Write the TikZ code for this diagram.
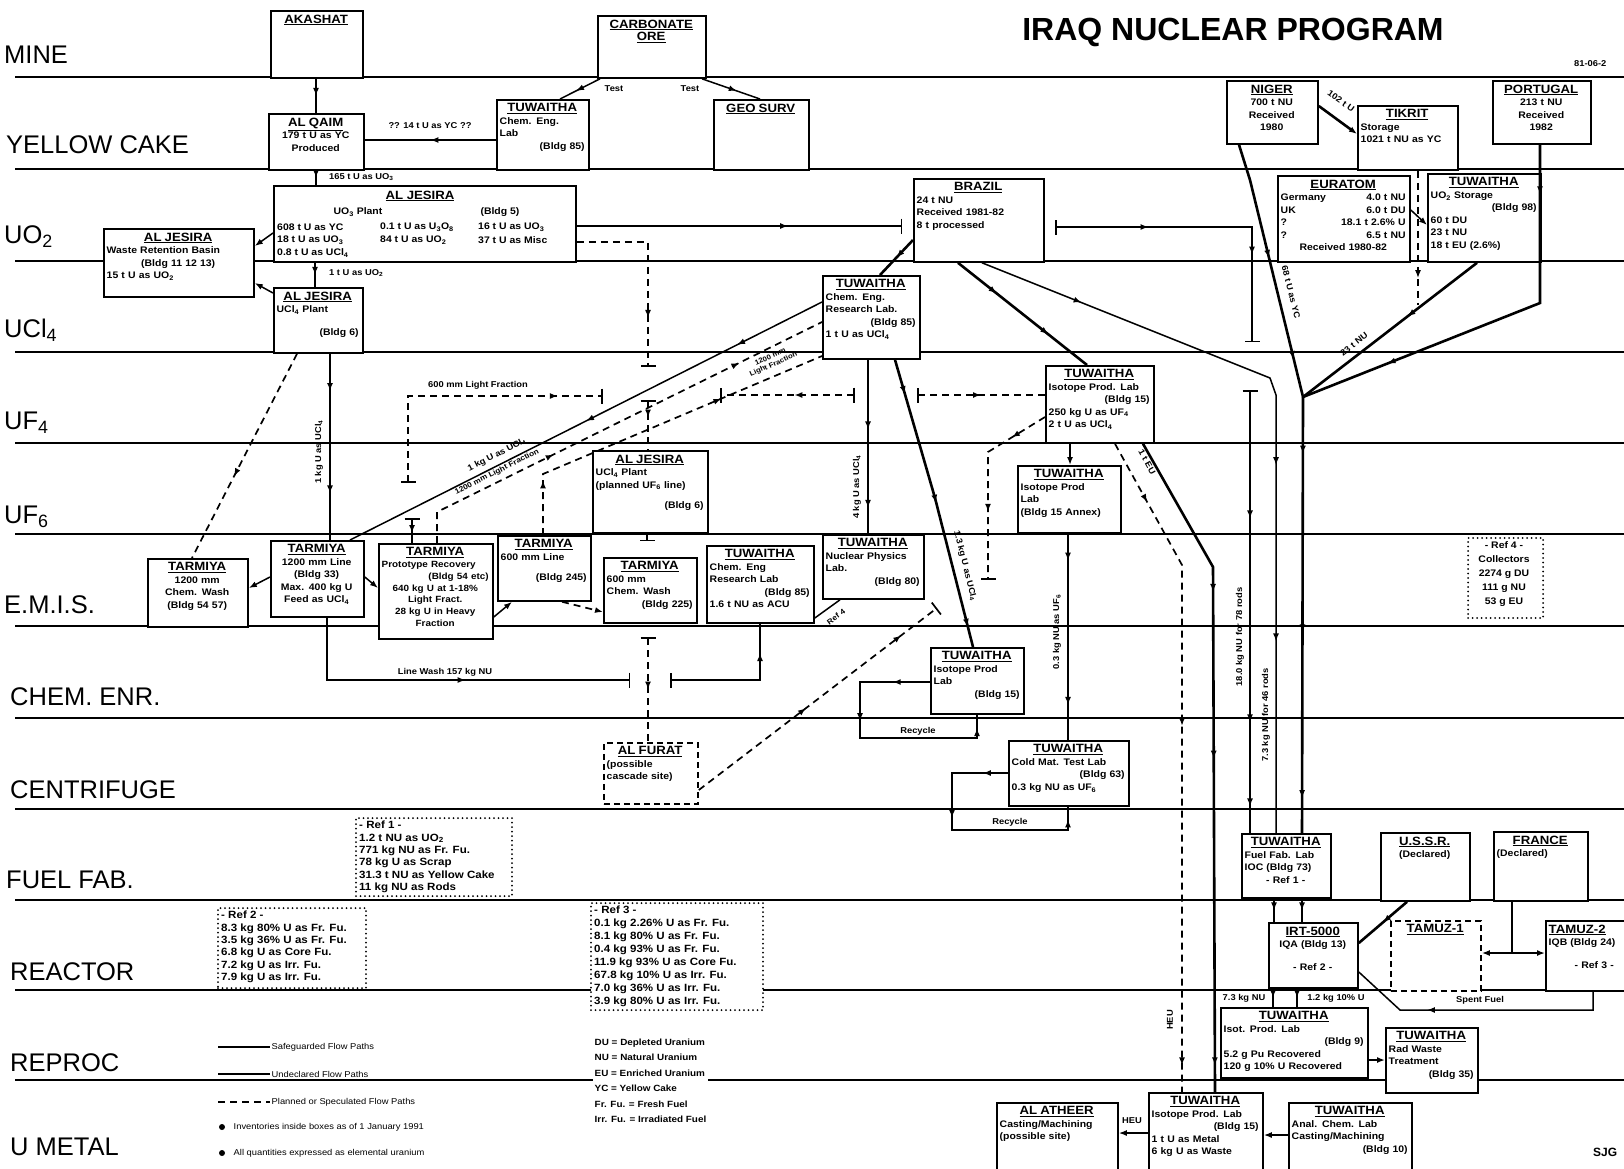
\documentclass[tikz,border=0pt]{standalone}
\usepackage{fontspec}
\setmainfont{Liberation Sans}
\newfontfamily\bxf[FakeStretch=1.1]{Liberation Sans}
\usetikzlibrary{arrows.meta,decorations.markings,calc}
\newcommand\arrmark{\arrow{Latex[length=8pt,width=6pt]}}
\newcommand\ttl[1]{\makebox[\linewidth]{\fontsize{12}{14}\selectfont\bfseries\underline{#1}}}
\newcommand\ttll[1]{{\fontsize{12}{14}\selectfont\bfseries\underline{#1}}}
\newcommand\rt[1]{\makebox[\linewidth][r]{#1}}
\newcommand\ct[1]{\makebox[\linewidth]{#1}}
\newcommand\bxat[7]{%
  \pgfmathsetmacro\bxw{#4-#2}\pgfmathsetmacro\bxh{#5-#3}\pgfmathsetmacro\bxt{#4-#2-7}%
  \node[#6, minimum width=\bxw pt, minimum height=\bxh pt, anchor=north west] (#1) at (#2,#3) {};%
  \node[btxt, text width=\bxt pt] (#1-t) at ($(#1.north west)+(3.5,4.5)$) {#7};}
\tikzset{
  bx/.style={draw, line width=1.8pt, fill=white, inner sep=0pt},
  dbx/.style={draw, line width=1.8pt, fill=white, dash pattern=on 6pt off 4pt, inner sep=0pt},
  dotbx/.style={draw, line width=2pt, fill=white, line cap=round, dash pattern=on 0pt off 4.5pt, inner sep=0pt},
  btxt/.style={anchor=north west, inner sep=0pt, align=left, font=\bxf\fontsize{9.5}{12.5}\selectfont\bfseries},
  rtxt/.style={anchor=north west, inner sep=0pt, align=left, font=\bxf\fontsize{10.5}{12.3}\selectfont\bfseries},
  lane/.style={line width=1.6pt},
  lanelab/.style={anchor=west, font=\fontsize{25.5}{27}\selectfont, inner sep=0pt},
  sg/.style={line width=2.6pt},
  uf/.style={line width=1.5pt},
  pf/.style={line width=1.7pt, dash pattern=on 7pt off 5pt},
  lbl/.style={font=\bxf\fontsize{8.5}{10}\selectfont\bfseries, inner sep=1pt},
  leg/.style={font=\bxf\fontsize{8.5}{10}\selectfont, inner sep=1.5pt, anchor=west, fill=white},
  am/.style={decoration={markings,mark=at position #1 with {\arrmark}},postaction={decorate}},
  am/.default=0.5,
  amm/.style 2 args={decoration={markings,mark=at position #1 with {\arrmark},mark=at position #2 with {\arrmark}},postaction={decorate}},
  am3/.style n args={3}{decoration={markings,mark=at position #1 with {\arrmark},mark=at position #2 with {\arrmark},mark=at position #3 with {\arrmark}},postaction={decorate}},
  arrend/.style={-{Latex[length=8pt,width=6pt]}},
  barend/.style={-{Bar[width=15pt]}},
  barstart/.style={{Bar[width=15pt]}-},
  barboth/.style={{Bar[width=15pt]}-{Bar[width=15pt]}}
}
\begin{document}
\begin{tikzpicture}[x=1pt,y=-1pt]
\useasboundingbox (0,0) rectangle (1624,1168);
\clip (0,0) rectangle (1624,1168);
\fill[white] (0,0) rectangle (1624,1168);

% lanes
\foreach \yy in {77,169,261,352,443,534,626,718,809,900,990,1080}
  \draw[lane] (15,\yy) -- (1624,\yy);

\node[lanelab] (lmine) at (4,55) {MINE};
\node[lanelab] (lyc) at (6,145) {YELLOW CAKE};
\node[lanelab] (luo2) at (4,237) {UO\textsubscript{2}};
\node[lanelab] (lucl4) at (4,330) {UCl\textsubscript{4}};
\node[lanelab] (luf4) at (4,423) {UF\textsubscript{4}};
\node[lanelab] (luf6) at (4,517) {UF\textsubscript{6}};
\node[lanelab] (lemis) at (4,605) {E.M.I.S.};
\node[lanelab] (lchem) at (10,697) {CHEM. ENR.};
\node[lanelab] (lcent) at (10,790) {CENTRIFUGE};
\node[lanelab] (lfuel) at (6,880) {FUEL FAB.};
\node[lanelab] (lreac) at (10,972) {REACTOR};
\node[lanelab] (lrepr) at (10,1063) {REPROC};
\node[lanelab] (lmet) at (10,1147) {U METAL};

\node[font=\fontsize{32}{36}\selectfont\bfseries, inner sep=0pt] (title) at (1233,32) {IRAQ NUCLEAR PROGRAM};
\node[lbl, anchor=west] (date) at (1573,64) {81-06-2};
\node[font=\fontsize{12}{14}\selectfont\bfseries, anchor=west, inner sep=0pt] (sjg) at (1593,1152) {SJG};

% ---------- boxes ----------
\bxat{akashat}{270}{10}{362}{77}{bx}{\ttl{AKASHAT}}
\bxat{carb}{597}{15}{705}{77}{bx}{\ttl{CARBONATE}\\ \ttl{ORE}}
\bxat{alqaim}{268}{113}{363}{169}{bx}{\ttl{AL QAIM}\\ \ct{179 t U as YC}\\ \ct{Produced}}
\bxat{twcel}{496}{99}{588}{169}{bx}{\ttl{TUWAITHA}\\ Chem. Eng.\\ Lab\\ \rt{(Bldg 85)}}
\bxat{geosurv}{713}{99}{808}{169}{bx}{\ttl{GEO SURV}}
\bxat{niger}{1226}{80}{1317}{143}{bx}{\ttl{NIGER}\\ \ct{700 t NU}\\ \ct{Received}\\ \ct{1980}}
\bxat{tikrit}{1357}{105}{1457}{169}{bx}{\ttl{TIKRIT}\\ Storage\\ 1021 t NU as YC}
\bxat{portugal}{1492}{80}{1590}{143}{bx}{\ttl{PORTUGAL}\\ \ct{213 t NU}\\ \ct{Received}\\ \ct{1982}}

\bxat{jesbig}{273}{185}{575}{261}{bx}{}
\node[font=\bxf\fontsize{12}{14}\selectfont\bfseries, inner sep=0pt] (jesbig-a) at (420,196) {\underline{AL JESIRA}};
\node[btxt, anchor=center] (jesbig-b) at (358,212) {UO\textsubscript{3} Plant};
\node[btxt, anchor=center] (jesbig-c) at (500,212) {(Bldg 5)};
\node[btxt, anchor=west] (jesbig-d) at (277,227) {608 t U as YC};
\node[btxt, anchor=west] (jesbig-e) at (380,227) {0.1 t U as U\textsubscript{3}O\textsubscript{8}};
\node[btxt, anchor=west] (jesbig-f) at (478,227) {16 t U as UO\textsubscript{3}};
\node[btxt, anchor=west] (jesbig-g) at (277,240) {18 t U as UO\textsubscript{3}};
\node[btxt, anchor=west] (jesbig-h) at (380,240) {84 t U as UO\textsubscript{2}};
\node[btxt, anchor=west] (jesbig-i) at (478,240) {37 t U as Misc};
\node[btxt, anchor=west] (jesbig-j) at (277,253) {0.8 t U as UCl\textsubscript{4}};

\bxat{waste}{103}{228}{253}{296}{bx}{\ttl{AL JESIRA}\\ Waste Retention Basin\\ \ct{(Bldg 11 12 13)}\\ 15 t U as UO\textsubscript{2}}
\bxat{brazil}{913}{178}{1043}{261}{bx}{\ttl{BRAZIL}\\ 24 t NU\\ Received 1981-82\\ 8 t processed}
\bxat{euratom}{1277}{175}{1409}{261}{bx}{\ttl{EURATOM}\\ Germany \hfill 4.0 t NU\\ UK \hfill 6.0 t DU\\ ? \hfill 18.1 t 2.6\% U\\ ? \hfill 6.5 t NU\\ \ct{Received 1980-82}}
\bxat{twstor}{1427}{173}{1540}{261}{bx}{\ttl{TUWAITHA}\\ UO\textsubscript{2} Storage\\ \rt{(Bldg 98)}\\ 60 t DU\\ 23 t NU\\ 18 t EU (2.6\%)}
\bxat{jucl}{273}{287}{362}{352}{bx}{\ttl{AL JESIRA}\\ UCl\textsubscript{4} Plant\\[10pt] \rt{(Bldg 6)}}
\bxat{twcerl}{822}{275}{919}{358}{bx}{\ttl{TUWAITHA}\\ Chem. Eng.\\ Research Lab.\\ \rt{(Bldg 85)}\\ 1 t U as UCl\textsubscript{4}}
\bxat{twipl4}{1045}{365}{1153}{442}{bx}{\ttl{TUWAITHA}\\ Isotope Prod. Lab\\ \rt{(Bldg 15)}\\ 250 kg U as UF\textsubscript{4}\\ 2 t U as UCl\textsubscript{4}}
\bxat{twipa}{1017}{465}{1120}{532}{bx}{\ttl{TUWAITHA}\\ Isotope Prod\\ Lab\\ (Bldg 15 Annex)}
\bxat{jesuf6}{592}{450}{707}{532}{bx}{\ttl{AL JESIRA}\\ UCl\textsubscript{4} Plant\\ (planned UF\textsubscript{6} line)\\[8pt] \rt{(Bldg 6)}}
\bxat{tcw12}{147}{558}{247}{626}{bx}{\ttl{TARMIYA}\\ \ct{1200 mm}\\ \ct{Chem. Wash}\\ \ct{(Bldg 54 57)}}
\bxat{tl12}{270}{540}{363}{616}{bx}{\ttl{TARMIYA}\\ \ct{1200 mm Line}\\ \ct{(Bldg 33)}\\ \ct{Max. 400 kg U}\\ \ct{Feed as UCl\textsubscript{4}}}
\bxat{tproto}{378}{543}{492}{638}{bx}{\fontsize{9}{11.7}\selectfont\ttl{TARMIYA}\\ Prototype Recovery\\ \rt{(Bldg 54 etc)}\\ \ct{640 kg U at 1-18\%}\\ \ct{Light Fract.}\\ \ct{28 kg U in Heavy}\\ \ct{Fraction}}
\bxat{tl6}{497}{535}{590}{600}{bx}{\ttl{TARMIYA}\\ 600 mm Line\\[8pt] \rt{(Bldg 245)}}
\bxat{tcw6}{603}{557}{696}{622}{bx}{\ttl{TARMIYA}\\ 600 mm\\ Chem. Wash\\ \rt{(Bldg 225)}}
\bxat{twcer}{706}{545}{813}{622}{bx}{\ttl{TUWAITHA}\\ Chem. Eng\\ Research Lab\\ \rt{(Bldg 85)}\\ 1.6 t NU as ACU}
\bxat{twnpl}{822}{534}{923}{598}{bx}{\ttl{TUWAITHA}\\ Nuclear Physics\\ Lab.\\ \rt{(Bldg 80)}}
\bxat{twip15}{930}{647}{1023}{713}{bx}{\ttl{TUWAITHA}\\ Isotope Prod\\ Lab\\ \rt{(Bldg 15)}}
\bxat{twcmt}{1008}{740}{1128}{805}{bx}{\ttl{TUWAITHA}\\ Cold Mat. Test Lab\\ \rt{(Bldg 63)}\\ 0.3 kg NU as UF\textsubscript{6}}
\bxat{furat}{603}{742}{697}{803}{dbx}{\ttl{AL FURAT}\\ (possible\\ cascade site)}

\bxat{ref1}{355}{817}{511}{895}{dotbx}{}
\node[rtxt] (ref1-t) at (359,821) {- Ref 1 -\\ 1.2 t NU as UO\textsubscript{2}\\ 771 kg NU as Fr. Fu.\\ 78 kg U as Scrap\\ 31.3 t NU as Yellow Cake\\ 11 kg NU as Rods};
\bxat{ref2}{217}{907}{365}{987}{dotbx}{}
\node[rtxt] (ref2-t) at (221,911) {- Ref 2 -\\ 8.3 kg 80\% U as Fr. Fu.\\ 3.5 kg 36\% U as Fr. Fu.\\ 6.8 kg U as Core Fu.\\ 7.2 kg U as Irr. Fu.\\ 7.9 kg U as Irr. Fu.};
\bxat{ref3}{590}{902}{762}{1009}{dotbx}{}
\node[rtxt, font=\bxf\fontsize{10.5}{12.9}\selectfont\bfseries] (ref3-t) at (594,906) {- Ref 3 -\\ 0.1 kg 2.26\% U as Fr. Fu.\\ 8.1 kg 80\% U as Fr. Fu.\\ 0.4 kg 93\% U as Fr. Fu.\\ 11.9 kg 93\% U as Core Fu.\\ 67.8 kg 10\% U as Irr. Fu.\\ 7.0 kg 36\% U as Irr. Fu.\\ 3.9 kg 80\% U as Irr. Fu.};
\bxat{ref4}{1467}{537}{1542}{617}{dotbx}{}
\node[rtxt, align=center, anchor=north, font=\bxf\fontsize{9.5}{14}\selectfont\bfseries] (ref4-t) at (1504,541) {- Ref 4 -\\ Collectors\\ 2274 g DU\\ 111 g NU\\ 53 g EU};

\bxat{twffl}{1241}{833}{1330}{897}{bx}{\ttl{TUWAITHA}\\ Fuel Fab. Lab\\ IOC (Bldg 73)\\ \ct{- Ref 1 -}}
\bxat{irt}{1268}{922}{1357}{987}{bx}{\ttl{IRT-5000}\\ \ct{IQA (Bldg 13)}\\[10pt] \ct{- Ref 2 -}}
\bxat{ussr}{1380}{832}{1469}{900}{bx}{\ttl{U.S.S.R.}\\ \ct{(Declared)}}
\bxat{france}{1493}{831}{1587}{900}{bx}{\ttl{FRANCE}\\ (Declared)}
\bxat{tamuz1}{1390}{920}{1480}{990}{dbx}{\ttl{TAMUZ-1}}
\bxat{tamuz2}{1545}{920}{1660}{990}{bx}{\ttll{TAMUZ-2}\\ IQB (Bldg 24)\\[10pt] \hspace*{26pt}- Ref 3 -}
\bxat{twipr}{1220}{1007}{1367}{1077}{bx}{\ttl{TUWAITHA}\\ Isot. Prod. Lab\\ \rt{(Bldg 9)}\\ 5.2 g Pu Recovered\\ 120 g 10\% U Recovered}
\bxat{twrwt}{1385}{1027}{1477}{1092}{bx}{\ttl{TUWAITHA}\\ Rad Waste\\ Treatment\\ \rt{(Bldg 35)}}
\bxat{twum}{1148}{1092}{1262}{1185}{bx}{\ttl{TUWAITHA}\\ Isotope Prod. Lab\\ \rt{(Bldg 15)}\\ 1 t U as Metal\\ 6 kg U as Waste}
\bxat{atheer}{996}{1102}{1117}{1185}{bx}{\ttl{AL ATHEER}\\ Casting/Machining\\ (possible site)}
\bxat{twacl}{1288}{1102}{1411}{1185}{bx}{\ttl{TUWAITHA}\\ Anal. Chem. Lab\\ Casting/Machining\\ \rt{(Bldg 10)}}

% ---------- free ends ----------
\coordinate (fe1) at (902,226);
\coordinate (fe2) at (1055,227);
\coordinate (fe3) at (1252,342);
\coordinate (fe4) at (1250,390);
\coordinate (fe5) at (648,367);
\coordinate (fe6) at (648,400);
\coordinate (fe7) at (412,518);
\coordinate (fe8) at (408,483);
\coordinate (fe9) at (603,396);
\coordinate (fe10) at (720,395);
\coordinate (fe11) at (855,395);
\coordinate (fe12) at (917,395);
\coordinate (fe13) at (647,541);
\coordinate (fe14) at (630,680);
\coordinate (fe15) at (670,680);
\coordinate (fe16) at (648,637);
\coordinate (fe17) at (937,608);
\coordinate (fe18) at (988,580);
\coordinate (fe19) at (1418,305);
\coordinate (jn) at (1303,397);
\coordinate (fj) at (1512,953);

% ---------- connectors ----------
\draw[sg, am] (316,0 |- akashat.south) -- (316,0 |- alqaim.north);
\draw[uf, am] (twcel.west |- 0,140) -- (alqaim.east |- 0,140);
\node[lbl] (lqy) at (430,126) {?? 14 t U as YC ??};
\draw[uf, am=0.6] (600,0 |- carb.south) -- (560,0 |- twcel.north);
\node[lbl] (lt1) at (614,89) {Test};
\draw[uf, am=0.6] (702,0 |- carb.south) -- (760,0 |- geosurv.north);
\node[lbl] (lt2) at (690,89) {Test};

\draw[sg, am] (316,0 |- alqaim.south) -- (316,0 |- jesbig.north);
\node[lbl, anchor=west] (l165) at (328,177) {165 t U as UO\textsubscript{3}};
\draw[uf, arrend] (jesbig.west |- 0,233) -- (waste.east |- 0,246);
\draw[uf, arrend] (jucl.west |- 0,293) -- (waste.east |- 0,283);
\draw[sg, am] (315,0 |- jesbig.south) -- (315,0 |- jucl.north);
\node[lbl, anchor=west] (l1uo2) at (328,273) {1 t U as UO\textsubscript{2}};

\draw[uf, am=0.65, barend] (jesbig.east |- 0,226) -- (fe1);
\draw[uf, barboth, amm={0.3}{0.72}] (fe2) -| (fe3);

\draw[sg, arrend] (niger.east |- 0,106) -- (tikrit.west |- 0,134);
\node[lbl, rotate=-35] (l102) at (1341,101) {102 t U};
\draw[sg, amm={0.45}{0.85}] (1239,0 |- niger.south) -- (1250,180) -- (jn);
\node[lbl, rotate=-76] (l68) at (1291,292) {68 t U as YC};
\draw[sg, amm={0.12}{0.78}] (1540,0 |- portugal.south) -- (1540,303) -- (jn);
\draw[sg, am=0.4] (1477,0 |- twstor.south) -- (jn);
\node[lbl, rotate=38] (l23) at (1354,344) {23 t NU};
\draw[pf, am=0.8] (1418,0 |- tikrit.south) -- (fe19);
\draw[uf, arrend] (euratom.east |- 0,210) -- (twstor.west |- 0,225);

\draw[sg, am3={0.13}{0.54}{0.92}] (jn) -- (1302,0 |- twffl.north);
\draw[uf, barstart, am3={0.29}{0.75}{0.94}] (fe4) -- (1250,0 |- twffl.north);
\node[lbl, rotate=90] (l18) at (1240,637) {18.0 kg NU for 78 rods};
\node[lbl, rotate=90] (l73) at (1266,715) {7.3 kg NU for 46 rods};

\draw[sg, am] (brazil.west |- 0,240) -- (880,0 |- twcerl.north);
\draw[sg, amm={0.3}{0.7}] (958,0 |- brazil.south) -- (1087,0 |- twipl4.north);
\draw[uf, am3={0.14}{0.52}{0.75}] (982,0 |- brazil.south) -- (1270,378) -- (1276,395) -- (1276,0 |- twffl.north);

\draw[pf, am=0.75, barend] (jesbig.east |- 0,242) -| (fe5);
\draw[pf, barstart, am=0.35] (fe6) -- (648,0 |- jesuf6.north);

\draw[sg, amm={0.2}{0.75}] (330,0 |- jucl.south) -- (330,0 |- tl12.north);
\node[lbl, rotate=90] (l1kg) at (319,452) {1 kg U as UCl\textsubscript{4}};
\draw[pf, am=0.6] (297,0 |- jucl.south) -- (192,0 |- tcw12.north);

\draw[uf, amm={0.18}{0.5}] (twcerl.west |- 0,302) -- (350,0 |- tl12.north);
\node[lbl, rotate=26.8] (ls1) at (497,455) {1 kg U as UCl\textsubscript{4}};
\draw[pf, amm={0.35}{0.8}] (437,0 |- tproto.north) -- (437,512) -- (twcerl.west |- 0,322);
\node[lbl, rotate=26.5, font=\bxf\fontsize{7.5}{9}\selectfont\bfseries] (ld1) at (497,472) {1200 mm Light Fraction};
\draw[pf, amm={0.15}{0.7}] (543,0 |- tl6.north) -- (543,474) -- (twcerl.west |- 0,356);
\node[lbl, rotate=24, align=center, font=\bxf\fontsize{7}{8}\selectfont\bfseries] (ld2) at (772,361) {1200 mm\\Light Fraction};

\draw[pf, barboth, am=0.84] (fe8) |- (fe9);
\node[lbl] (l600) at (478,385) {600 mm Light Fraction};
\draw[uf, barstart, am=0.6] (fe7) -- (412,0 |- tproto.north);
\draw[pf, barboth, am=0.45] (fe11) -- (fe10);
\draw[pf, barstart, am=0.5] (fe12) -- (twipl4.west |- fe12);

\draw[sg, amm={0.4}{0.85}] (868,0 |- twcerl.south) -- (868,0 |- twnpl.north);
\node[lbl, rotate=90] (l4kg) at (857,487) {4 kg U as UCl\textsubscript{4}};
\draw[sg, am3={0.12}{0.5}{0.93}] (895,0 |- twcerl.south) -- (935,498) -- (973,0 |- twip15.north);
\node[lbl, rotate=-76] (l13) at (965,566) {1.3 kg U as UCl\textsubscript{4}};

\draw[uf, arrend] (tl12.west |- 0,577) -- (tcw12.east |- 0,588);
\draw[uf, arrend] (tl12.east |- 0,577) -- (tproto.west |- 0,588);
\draw[uf, arrend] (tproto.east |- 0,617) -- (512,0 |- tl6.south);
\draw[pf, arrend] (562,0 |- tl6.south) -- (tcw6.west |- 0,612);
\draw[uf, barend] (647,0 |- jesuf6.south) -- (fe13);

\draw[uf, am=0.55, barend] (327,0 |- tl12.south) |- (fe14);
\node[lbl] (llw) at (445,672) {Line Wash 157 kg NU};
\draw[uf, barstart, am=0.8] (fe15) -| (760,0 |- twcer.south);

\draw[pf, barstart, am=0.5] (fe16) -- (648,0 |- furat.north);
\draw[pf, amm={0.45}{0.85}, barend] (furat.east |- 0,790) -- (fe17);
\draw[pf, amm={0.2}{0.65}, barend] (twipl4.west |- 0,417) -- (988,452) -- (fe18);
\draw[uf] (twcer.east |- 0,618) -- (840,0 |- twnpl.south);
\node[lbl, rotate=36, font=\bxf\fontsize{7.5}{9}\selectfont\bfseries] (lref4) at (836,617) {Ref 4};

\draw[uf, am3={0.14}{0.41}{0.95}] (twip15.west |- 0,682) -- (860,682) -- (860,738) -- (977,738) -- (977,0 |- twip15.south);
\node[lbl] (lrc1) at (918,731) {Recycle};
\draw[uf, am3={0.1}{0.4}{0.95}] (twcmt.west |- 0,773) -- (952,773) -- (952,830) -- (1068,830) -- (1068,0 |- twcmt.south);
\node[lbl] (lrc2) at (1010,822) {Recycle};
\draw[sg, amm={0.13}{0.83}] (1068,0 |- twipa.south) -- (1068,0 |- twcmt.north);
\node[lbl, rotate=90] (l03) at (1057,632) {0.3 kg NU as UF\textsubscript{6}};
\draw[uf, arrend] (1070,0 |- twipl4.south) -- (1070,0 |- twipa.north);

\draw[pf, am3={0.1}{0.45}{0.96}] (1115,0 |- twipl4.south) -- (1182,565) -- (1182,0 |- twum.north);
\node[lbl, rotate=-61] (l1eu) at (1147,462) {1 t EU};
\node[lbl, rotate=90] (lheu) at (1170,1020) {HEU};
\draw[sg, am3={0.25}{0.5}{0.96}] (1143,0 |- twipl4.south) -- (1213,567) -- (1215,0 |- twum.north);

\draw[uf, am] (1274,0 |- twffl.south) -- (1274,0 |- irt.north);
\draw[uf, am] (1302,0 |- twffl.south) -- (1302,0 |- irt.north);
\draw[sg, am] (1407,0 |- ussr.south) -- (irt.east |- 0,943);
\draw[sg] (1512,0 |- france.south) -- (fj);
\draw[sg, arrend] (fj) -- (tamuz1.east |- fj);
\draw[sg, arrend] (fj) -- (tamuz2.west |- fj);
\draw[uf, am=0.69] (1593,0 |- tamuz2.south) -- (1593,1010) -- (1400,1010) -- (irt.east |- 0,972);
\node[lbl] (lsf) at (1480,1000) {Spent Fuel};
\draw[uf, am] (1273,0 |- irt.south) -- (1273,0 |- twipr.north);
\draw[uf, am] (1297,0 |- irt.south) -- (1297,0 |- twipr.north);
\node[lbl] (l73b) at (1244,998) {7.3 kg NU};
\node[lbl] (l12b) at (1336,998) {1.2 kg 10\% U};
\draw[uf, arrend] (twipr.east |- 0,1060) -- (twrwt.west |- 0,1060);
\draw[uf, arrend] (twum.west |- 0,1133) -- (atheer.east |- 0,1133);
\node[lbl] (lheu2) at (1132,1121) {HEU};
\draw[uf, arrend] (twacl.west |- 0,1135) -- (twum.east |- 0,1135);

% ---------- legend ----------
\node[leg] (lg1) at (270,1047) {Safeguarded Flow Paths};
\draw[sg] (218,1047) -- (lg1.west);
\node[leg] (lg2) at (270,1074) {Undeclared Flow Paths};
\draw[uf] (218,1074) -- (lg2.west);
\node[leg] (lg3) at (270,1102) {Planned or Speculated Flow Paths};
\draw[pf] (218,1102) -- (lg3.west);
\fill (222,1127) circle (3);
\node[leg] (lg4) at (232,1127) {Inventories inside boxes as of 1 January 1991};
\fill (222,1153) circle (3);
\node[leg] (lg5) at (232,1153) {All quantities expressed as elemental uranium};
\node[leg, align=left, font=\bxf\fontsize{9}{15.5}\selectfont\bfseries, anchor=north west] (lg6) at (593,1037) {DU = Depleted Uranium\\ NU = Natural Uranium\\ EU = Enriched Uranium\\ YC = Yellow Cake\\ Fr. Fu. = Fresh Fuel\\ Irr. Fu. = Irradiated Fuel};
\end{tikzpicture}
\end{document}
